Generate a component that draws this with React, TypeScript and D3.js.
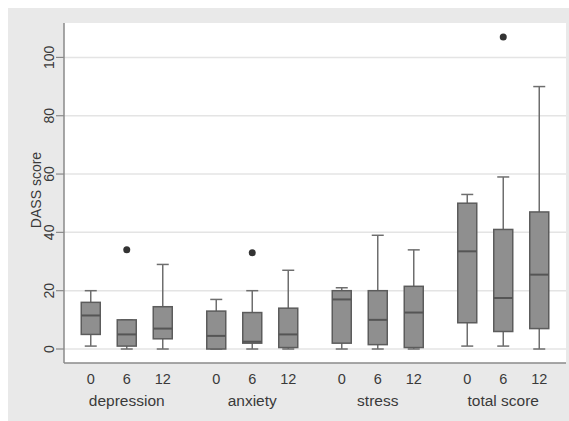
import React from "react";
import * as d3 from "d3";

const groups = ["depression", "anxiety", "stress", "total score"];
const times = ["0", "6", "12"];
// order: group-major, time-minor
const whiskerLow = [1, 0, 0, 0, 0, 0, 0, 0, 0, 1, 1, 0];
const q1 = [5, 1, 3.5, 0, 2, 0.5, 2, 1.5, 0.5, 9, 6, 7];
const median = [11.5, 5, 7, 4.5, 2.5, 5, 17, 10, 12.5, 33.5, 17.5, 25.5];
const q3 = [16, 10, 14.5, 13, 12.5, 14, 20, 20, 21.5, 50, 41, 47];
const whiskerHigh = [20, 10, 29, 17, 20, 27, 21, 39, 34, 53, 59, 90];
const outlierGroup = ["depression", "anxiety", "total score"];
const outlierTime = ["6", "6", "6"];
const outlierValue = [34, 33, 107];
const yTicks = [0, 20, 40, 60, 80, 100];

const W = 569;
const H = 421;
const plot = { left: 64, right: 566, top: 23, bottom: 363 };
const FONT = "'Liberation Sans', Arial, Helvetica, sans-serif";

export default function App() {
  const x = d3.scaleBand<string>().domain(groups).range([plot.left, plot.right]);
  const xi = d3.scalePoint<string>().domain(times).range([-36, 36]);
  const y = d3.scaleLinear().domain([-4.8, 111.8]).range([plot.bottom, plot.top]);
  const cx = (g: string, t: string) => (x(g) as number) + x.bandwidth() / 2 + (xi(t) as number);

  const boxes: { g: string; t: string; i: number }[] = [];
  groups.forEach((g, gi) => times.forEach((t, ti) => boxes.push({ g, t, i: gi * times.length + ti })));

  const boxW = 19;
  const capW = 12;
  const textColor = "#3a3a3a";

  return (
    <svg width={W} height={H} style={{ position: "absolute", left: 0, top: 0 }} fontFamily={FONT}>
      <rect x={0} y={0} width={W} height={H} fill="#ffffff" />
      <rect x={8} y={8} width={W - 8} height={H - 8} fill="#e9e9e9" />
      <rect x={plot.left} y={plot.top} width={plot.right - plot.left} height={plot.bottom - plot.top} fill="#ffffff" />
      {yTicks.map((v) => (
        <line key={"g" + v} x1={plot.left} x2={plot.right} y1={y(v)} y2={y(v)} stroke="#e4e4e4" strokeWidth={1.5} />
      ))}
      {/* axes */}
      <line x1={plot.left} x2={plot.left} y1={plot.top} y2={plot.bottom} stroke="#8a8a8a" strokeWidth={1.5} />
      <line x1={plot.left} x2={plot.right} y1={plot.bottom} y2={plot.bottom} stroke="#8a8a8a" strokeWidth={1.5} />
      {yTicks.map((v) => (
        <g key={"t" + v}>
          <line x1={plot.left - 8} x2={plot.left} y1={y(v)} y2={y(v)} stroke="#8a8a8a" strokeWidth={1.2} />
          <text
            transform={`translate(${plot.left - 10},${y(v)}) rotate(-90)`}
            textAnchor="middle"
            fontSize={14}
            fill={textColor}
          >
            {v}
          </text>
        </g>
      ))}
      <text
        transform={`translate(41,${(plot.top + plot.bottom) / 2 - 3}) rotate(-90)`}
        textAnchor="middle"
        fontSize={14}
        fill={textColor}
      >
        DASS score
      </text>
      {/* boxes */}
      {boxes.map(({ g, t, i }) => {
        const c = cx(g, t);
        return (
          <g key={g + t}>
            <line x1={c} x2={c} y1={y(whiskerHigh[i])} y2={y(q3[i])} stroke="#6e6e6e" strokeWidth={1.5} />
            <line x1={c} x2={c} y1={y(whiskerLow[i])} y2={y(q1[i])} stroke="#6e6e6e" strokeWidth={1.5} />
            <line x1={c - capW / 2} x2={c + capW / 2} y1={y(whiskerHigh[i])} y2={y(whiskerHigh[i])} stroke="#6e6e6e" strokeWidth={1.5} />
            <line x1={c - capW / 2} x2={c + capW / 2} y1={y(whiskerLow[i])} y2={y(whiskerLow[i])} stroke="#6e6e6e" strokeWidth={1.5} />
            <rect
              x={c - boxW / 2}
              y={y(q3[i])}
              width={boxW}
              height={y(q1[i]) - y(q3[i])}
              fill="#8f8f8f"
              stroke="#5c5c5c"
              strokeWidth={1.5}
            />
            <line x1={c - boxW / 2} x2={c + boxW / 2} y1={y(median[i])} y2={y(median[i])} stroke="#555555" strokeWidth={2} />
            <text x={c} y={383.5} textAnchor="middle" fontSize={14.5} fill={textColor}>
              {t}
            </text>
          </g>
        );
      })}
      {outlierValue.map((v, k) => (
        <circle key={"o" + k} cx={cx(outlierGroup[k], outlierTime[k])} cy={y(v)} r={3.5} fill="#333333" />
      ))}
      {groups.map((g) => (
        <text key={g} x={(x(g) as number) + x.bandwidth() / 2} y={406} textAnchor="middle" fontSize={15.5} fill={textColor}>
          {g}
        </text>
      ))}
    </svg>
  );
}
